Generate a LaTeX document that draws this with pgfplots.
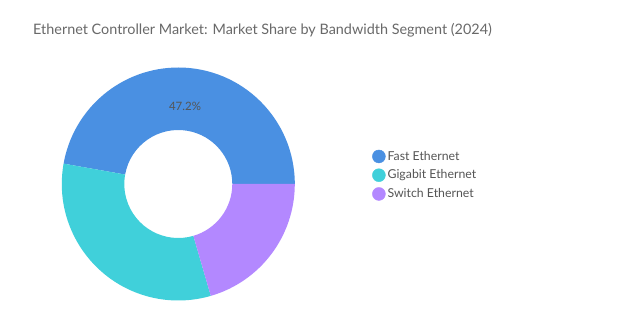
\documentclass[border=0pt]{standalone}
\usepackage{pgfplots}
\pgfplotsset{compat=1.18}
\usepackage{pgfplotstable}
\usepackage{fontspec}
\setmainfont{Lato}
\definecolor{fastc}{RGB}{74,144,226}
\definecolor{gigac}{RGB}{64,208,218}
\definecolor{switchc}{RGB}{179,136,255}
\definecolor{titlec}{RGB}{105,105,105}
\definecolor{legc}{RGB}{85,85,85}
\pgfplotstableread{
segment value
Fast 47.2
Gigabit 32.3
Switch 20.5
}\sharetable
\pgfplotstablegetelem{0}{value}\of\sharetable \let\vA\pgfplotsretval
\pgfplotstablegetelem{1}{value}\of\sharetable \let\vB\pgfplotsretval
\pgfplotstablegetelem{2}{value}\of\sharetable \let\vC\pgfplotsretval
\pgfmathsetmacro{\aA}{0}
\pgfmathsetmacro{\aB}{\aA+3.6*\vA}
\pgfmathsetmacro{\aC}{\aB+3.6*\vB}
\pgfmathsetmacro{\aD}{\aC+3.6*\vC}
\newcommand{\donutwedge}[3]{%
  \fill[#1] (axis cs:178.3,146) ++(#2:116.5bp) arc[start angle=#2,end angle=#3,radius=116.5bp]
    -- ++(#3:-62.5bp) arc[start angle=#3,end angle=#2,radius=54bp] -- cycle;}
\begin{document}
\begin{tikzpicture}
\useasboundingbox[fill=white] (0,0) rectangle (619bp,330bp);
\begin{axis}[
  at={(0,0)}, anchor=south west,
  x=1bp, y=1bp, xmin=0, xmax=619, ymin=0, ymax=330,
  hide axis, clip=false,
  legend style={at={(axis cs:372,181)}, anchor=north west, draw=none, fill=none,
    font=\fontsize{12.3bp}{14bp}\selectfont\color{legc}, inner sep=0pt,
    row sep=4.2bp, /tikz/every odd column/.append style={column sep=0bp}},
  legend cell align=left,
]
\donutwedge{fastc}{\aA}{\aB}
\donutwedge{gigac}{\aB}{\aC}
\donutwedge{switchc}{\aC}{\aD}
\addlegendimage{legend image code/.code={\fill[fastc] (7.5bp,0bp) circle (6.5bp);}}
\addlegendentry{Fast Ethernet}
\addlegendimage{legend image code/.code={\fill[gigac] (7.5bp,0bp) circle (6.5bp);}}
\addlegendentry{Gigabit Ethernet}
\addlegendimage{legend image code/.code={\fill[switchc] (7.5bp,0bp) circle (6.5bp);}}
\addlegendentry{Switch Ethernet}
\node[font=\fontsize{11.5bp}{13bp}\selectfont, text=legc] at (axis cs:185,224) {\pgfmathprintnumber[fixed,precision=1,fixed zerofill,assume math mode=true]{\vA}\%};
\end{axis}
\node[anchor=base west, font=\fontsize{14.4bp}{17bp}\selectfont, text=titlec, inner sep=0pt] at (33bp,295.7bp) {Ethernet Controller Market: Market Share by Bandwidth Segment (2024)};
\end{tikzpicture}
\end{document}
